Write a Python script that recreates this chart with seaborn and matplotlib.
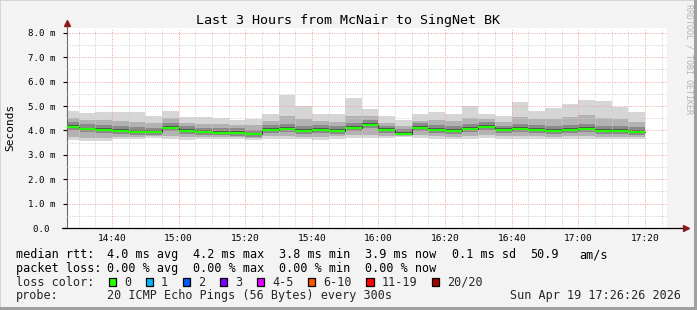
import numpy as np
import pandas as pd
import matplotlib
matplotlib.use("Agg")
import matplotlib.pyplot as plt
import seaborn as sns
from matplotlib.patches import Rectangle
from matplotlib.ticker import MultipleLocator, FixedLocator, FixedFormatter

# ---------------- data ----------------
bar_end = pd.date_range("2026-04-19 14:30", "2026-04-19 17:20", freq="5min")
window_start = pd.Timestamp("2026-04-19 14:26:30")
window_end = pd.Timestamp("2026-04-19 17:26:36")
day0 = pd.Timestamp("2026-04-19 14:00")

rtt_median = [4.16, 4.06, 4.02, 3.98, 3.94, 3.94, 4.10, 3.99, 3.94, 3.91, 3.91, 3.84, 4.02, 4.06,
              3.99, 4.02, 3.98, 4.10, 4.24, 4.02, 3.87, 4.12, 4.02, 3.98, 4.06, 4.16, 4.02, 4.06,
              4.02, 3.98, 4.02, 4.06, 3.98, 3.98, 3.94]
rtt_max = [4.81, 4.72, 4.76, 4.76, 4.76, 4.61, 4.81, 4.55, 4.55, 4.51, 4.43, 4.48, 4.68, 5.47,
           5.00, 4.68, 4.68, 5.33, 4.88, 4.59, 4.43, 4.68, 4.76, 4.68, 5.00, 4.68, 4.59, 5.17,
           4.80, 4.92, 5.09, 5.25, 5.21, 4.96, 4.76]
rtt_min = [3.61, 3.57, 3.57, 3.65, 3.65, 3.69, 3.65, 3.61, 3.65, 3.65, 3.65, 3.61, 3.65, 3.65,
           3.65, 3.61, 3.65, 3.69, 3.69, 3.69, 3.75, 3.69, 3.65, 3.65, 3.65, 3.69, 3.65, 3.65,
           3.65, 3.65, 3.65, 3.65, 3.65, 3.65, 3.65]
rtt_p10 = [3.72, 3.68, 3.68, 3.74, 3.75, 3.78, 3.76, 3.72, 3.75, 3.74, 3.75, 3.70, 3.76, 3.77,
           3.75, 3.72, 3.76, 3.80, 3.82, 3.79, 3.78, 3.80, 3.76, 3.75, 3.77, 3.81, 3.76, 3.77,
           3.76, 3.75, 3.76, 3.77, 3.74, 3.74, 3.73]
rtt_p25 = [4.02, 3.93, 3.89, 3.85, 3.82, 3.83, 3.96, 3.86, 3.82, 3.80, 3.79, 3.74, 3.89, 3.93,
           3.87, 3.89, 3.86, 3.97, 4.08, 3.90, 3.80, 3.99, 3.89, 3.86, 3.93, 4.03, 3.90, 3.93,
           3.89, 3.86, 3.89, 3.92, 3.85, 3.85, 3.82]
rtt_p40 = [4.12, 4.02, 3.98, 3.94, 3.90, 3.90, 4.06, 3.95, 3.90, 3.87, 3.87, 3.80, 3.98, 4.02,
           3.95, 3.98, 3.94, 4.06, 4.19, 3.98, 3.84, 4.08, 3.98, 3.94, 4.02, 4.12, 3.98, 4.02,
           3.98, 3.94, 3.98, 4.02, 3.94, 3.94, 3.90]
rtt_p60 = [4.22, 4.12, 4.09, 4.05, 4.01, 4.00, 4.17, 4.05, 4.00, 3.97, 3.97, 3.91, 4.09, 4.13,
           4.06, 4.08, 4.05, 4.17, 4.30, 4.08, 3.94, 4.18, 4.08, 4.05, 4.13, 4.22, 4.08, 4.13,
           4.09, 4.05, 4.09, 4.13, 4.05, 4.05, 4.01]
rtt_p75 = [4.34, 4.25, 4.21, 4.17, 4.13, 4.12, 4.30, 4.17, 4.12, 4.09, 4.09, 4.03, 4.22, 4.27,
           4.19, 4.21, 4.17, 4.31, 4.42, 4.20, 4.06, 4.31, 4.21, 4.18, 4.26, 4.34, 4.20, 4.26,
           4.22, 4.18, 4.23, 4.28, 4.19, 4.17, 4.13]
rtt_p90 = [4.50, 4.42, 4.44, 4.38, 4.36, 4.30, 4.50, 4.30, 4.28, 4.25, 4.22, 4.22, 4.40, 4.60,
           4.45, 4.38, 4.36, 4.60, 4.58, 4.32, 4.20, 4.40, 4.42, 4.38, 4.50, 4.45, 4.33, 4.55,
           4.45, 4.48, 4.55, 4.62, 4.52, 4.45, 4.36]

x_tick_labels = ["14:40", "15:00", "15:20", "15:40", "16:00", "16:20", "16:40", "17:00", "17:20"]
y_tick_labels = ["0.0\u00a0", "1.0 m", "2.0 m", "3.0 m", "4.0 m", "5.0 m", "6.0 m", "7.0 m", "8.0 m"]

title = "Last 3 Hours from McNair to SingNet BK"
legend_rows = [
    [("median rtt:", 16), ("4.0 ms avg", 107.3), ("4.2 ms max", 193.3), ("3.8 ms min", 279),
     ("3.9 ms now", 365), ("0.1 ms sd", 451.7), ("50.9", 530), ("am/s", 579.3)],
    [("packet loss:", 16), ("0.00 % avg", 107.3), ("0.00 % max", 193.3), ("0.00 % min", 279),
     ("0.00 % now", 365)],
]
loss_labels = ["0", "1", "2", "3", "4-5", "6-10", "11-19", "20/20"]
loss_colors = ["#26ff00", "#00b8ff", "#0059ff", "#7e00ff", "#e000ff", "#ff5500", "#ff0000", "#a10000"]
probe_text = "20 ICMP Echo Pings (56 Bytes) every 300s"
stamp_text = "Sun Apr 19 17:26:26 2026"

# ---------------- styling ----------------
W, H = 697, 310
sns.set_theme(style="white")
plt.rcParams["font.family"] = ["DejaVu Sans Mono", "DejaVu Sans"]

fig = plt.figure(figsize=(W / 100, H / 100), dpi=100, facecolor="#f3f3f3")


def fx(x):
    return x / W


def fy(y):
    return 1 - y / H


ax = fig.add_axes([fx(67), fy(228), 600 / W, 200 / H])
ax.set_facecolor("white")

end_min = ((bar_end - day0).total_seconds() / 60).to_numpy()
start_min = end_min - 5
xs = np.append(start_min, end_min[-1])


def ext(a):
    a = np.asarray(a, dtype=float)
    return np.append(a, a[-1])


bands = [
    (rtt_min, rtt_max, "#d6d6d6"),
    (rtt_p10, rtt_p90, "#b2b2b2"),
    (rtt_p25, rtt_p75, "#8a8a8a"),
    (rtt_p40, rtt_p60, "#4e4e4e"),
]
for lo, hi, c in bands:
    ax.fill_between(xs, ext(lo), ext(hi), step="post", color=c, lw=0, zorder=1)

df_med = pd.DataFrame({"t": xs, "rtt": ext(rtt_median)})
sns.lineplot(data=df_med, x="t", y="rtt", drawstyle="steps-post", color="#2a2a2a",
             lw=0.6, ax=ax, zorder=3, estimator=None)
ax.hlines(rtt_median, start_min, end_min, colors="#22ff00", lw=1.6, zorder=4)

ax.set_xlim((window_start - day0).total_seconds() / 60, (window_end - day0).total_seconds() / 60)
ax.set_ylim(0, 8.2)

ax.xaxis.set_major_locator(MultipleLocator(20))
ax.xaxis.set_minor_locator(MultipleLocator(5))
ax.yaxis.set_major_locator(FixedLocator(range(len(y_tick_labels))))
ax.yaxis.set_major_formatter(FixedFormatter(y_tick_labels))
ax.yaxis.set_minor_locator(MultipleLocator(0.5))
ax.set_xticks([40 + 20 * i for i in range(len(x_tick_labels))])
ax.set_xticklabels(x_tick_labels)

ax.set_axisbelow(False)
ax.grid(which="major", color="#f0a0a0", lw=0.72, linestyle=(0, (1, 1.3)), zorder=2.5, alpha=0.9)
ax.grid(which="minor", color="#cdcdcd", lw=0.72, linestyle=(0, (1, 1.3)), zorder=2.5, alpha=0.9)

ax.tick_params(axis="x", which="both", length=0, pad=4.5, labelsize=6.8, colors="black")
ax.tick_params(axis="y", which="major", length=3, width=0.8, pad=5.6, labelsize=6.6,
               colors="black", left=True)
ax.tick_params(axis="y", which="minor", length=0)
ax.set_xlabel("")
ax.set_ylabel("")

for s in ["top", "right", "bottom"]:
    ax.spines[s].set_visible(False)
ax.spines["left"].set_color("#6a6a6a")
ax.spines["left"].set_linewidth(0.8)

# axis lines with arrows
ax.plot([-0.008, 1.027], [0, 0], transform=ax.transAxes, color="black", lw=0.9,
        clip_on=False, zorder=5)
ax.plot([0, 0], [1.0, 1.015], transform=ax.transAxes, color="#6a6a6a", lw=0.8,
        clip_on=False, zorder=5)
ax.plot([1.031], [0], transform=ax.transAxes, marker=">", ms=4.6, color="#8b1a1a",
        mec="#8b1a1a", clip_on=False, zorder=6)
ax.plot([0], [1.027], transform=ax.transAxes, marker="^", ms=4.6, color="#8b1a1a",
        mec="#8b1a1a", clip_on=False, zorder=6)

# texts
fig.text(fx(348), fy(24), title, ha="center", va="baseline", fontsize=9.6, color="black")
fig.text(fx(10.5), fy(127.4), "Seconds", rotation=90, ha="center", va="center",
         fontsize=8, color="black")
fig.text(fx(688.5), fy(4), "RRDTOOL / TOBI OETIKER", rotation=-90, ha="center", va="top",
         fontsize=6, color="#b4b4b4")

baselines = [258.3, 271.7, 285.7, 299.3]
fs = 8.5
for row, yb in zip(legend_rows, baselines[:2]):
    for txt, x in row:
        fig.text(fx(x), fy(yb), txt, ha="left", va="baseline", fontsize=fs, color="black")

fig.text(fx(16), fy(baselines[2]), "loss color:", ha="left", va="baseline", fontsize=fs)
char_w = 7.1
sx = 108.7
for lab, col in zip(loss_labels, loss_colors):
    fig.patches.append(Rectangle((fx(sx), fy(285.7)), 7.3 / W, 7.6 / H, transform=fig.transFigure,
                                 facecolor=col, edgecolor="black", lw=0.9))
    lx = sx + 15.3
    fig.text(fx(lx), fy(baselines[2]), lab, ha="left", va="baseline", fontsize=fs)
    sx = lx + len(lab) * char_w + 14.6

fig.text(fx(16), fy(baselines[3]), "probe:", ha="left", va="baseline", fontsize=fs)
fig.text(fx(107.3), fy(baselines[3]), probe_text, ha="left", va="baseline", fontsize=fs)
fig.text(fx(681), fy(baselines[3]), stamp_text, ha="right", va="baseline", fontsize=fs)

# frame
fig.patches.append(Rectangle((0, 0), 1, 1, transform=fig.transFigure, fill=False,
                             edgecolor="#d0d0d0", lw=1.2))
fig.patches.append(Rectangle((fx(694), 0), 3 / W, 1, transform=fig.transFigure,
                             facecolor="#a0a0a0", lw=0))
fig.patches.append(Rectangle((0, 0), 1, 3 / H, transform=fig.transFigure,
                             facecolor="#a0a0a0", lw=0))

fig.savefig("out.png", dpi=100, facecolor=fig.get_facecolor())
